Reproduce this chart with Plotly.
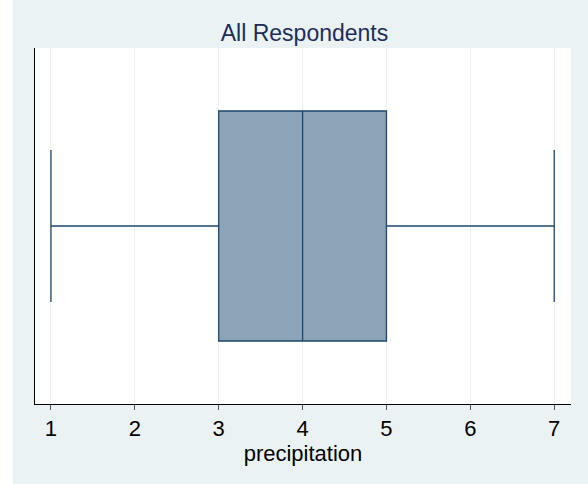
import plotly.graph_objects as go

# Data (summary statistics)
category = ["All Respondents"]
lower_whisker = [1]
q1_values = [3]
median_values = [4]
q3_values = [5]
upper_whisker = [7]
tick_values = [1, 2, 3, 4, 5, 6, 7]
tick_labels = ["1", "2", "3", "4", "5", "6", "7"]

W, H = 588, 484
L, R, T, B = 34.5, 17, 48, 80

fig = go.Figure()
fig.add_trace(go.Box(
    y=[0],
    lowerfence=lower_whisker,
    q1=q1_values,
    median=median_values,
    q3=q3_values,
    upperfence=upper_whisker,
    orientation="h",
    width=0.646,
    whiskerwidth=0.66,
    fillcolor="#8CA3B8",
    line=dict(color="#1A476F", width=1.3),
    boxpoints=False,
    hoverinfo="skip",
    showlegend=False,
))

pw = W - L - R
ph = H - T - B
# light background starting at x=12, y=2
fig.add_shape(type="rect", xref="paper", yref="paper", layer="below",
              x0=(12 - L) / pw, x1=(W - L) / pw + 0.01,
              y0=-B / ph - 0.01, y1=(H - T - 2) / ph,
              fillcolor="#EAF2F3", line=dict(width=0))
fig.add_shape(type="rect", xref="paper", yref="paper", layer="below",
              x0=0, x1=1, y0=0, y1=1,
              fillcolor="white", line=dict(width=0))

fig.update_layout(
    width=W, height=H,
    margin=dict(l=L, r=R, t=T, b=B),
    paper_bgcolor="white",
    plot_bgcolor="rgba(0,0,0,0)",
    font=dict(family="Liberation Sans, Arial, sans-serif", color="black"),
    title=dict(text=category[0], x=304.5 / W, xanchor="center",
               y=1 - 33 / H, yanchor="middle",
               font=dict(size=23, color="#1E2D5A")),
    xaxis=dict(range=[0.81, 7.2], tickvals=tick_values, ticktext=tick_labels,
               showgrid=True, gridcolor="#EAF2F3", gridwidth=1,
               showline=True, linecolor="black", linewidth=1,
               ticks="outside", ticklen=5, tickcolor="#555555",
               tickfont=dict(size=22), zeroline=False,
               title=dict(text="precipitation", font=dict(size=22), standoff=0)),
    yaxis=dict(range=[-0.5, 0.5], showticklabels=False, showgrid=False,
               zeroline=False, showline=True, linecolor="black", linewidth=1,
               ticks=""),
)

fig.write_html("out.html", config={"displayModeBar": False},
               post_script="document.body.style.margin='0';")
